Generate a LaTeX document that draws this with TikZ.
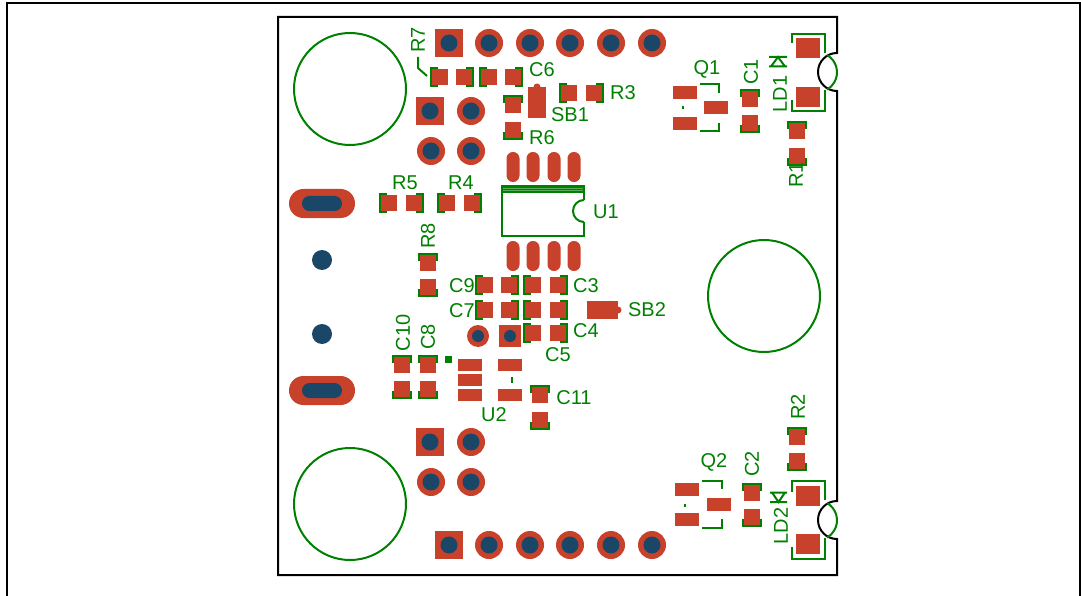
\documentclass[tikz,border=0pt]{standalone}
\usepackage{fontspec}
\setmainfont{Liberation Sans}
\definecolor{padred}{RGB}{200,65,43}
\definecolor{holeblue}{RGB}{26,70,104}
\definecolor{silkgreen}{RGB}{0,128,0}
\tikzset{
	padfill/.style={fill=padred,draw=none},
	holefill/.style={fill=holeblue,draw=none},
	silk/.style={draw=silkgreen,line width=2pt,fill=none},
	edge/.style={draw=black,line width=2pt},
	lbl/.style={text=silkgreen,inner sep=0pt,font=\fontsize{20}{22}\selectfont},
}
\begin{document}
\begin{tikzpicture}[x=1pt,y=-1pt]
	\useasboundingbox (0,0) rectangle (1081,596);
	% page frame and board
	\draw[edge] (7,600) -- (7,3) -- (1080,3) -- (1080,600);
	\draw[edge] (278,17) -- (837,17) -- (837,53) arc[start angle=270,end angle=90,radius=19] -- (837,501) arc[start angle=270,end angle=90,radius=19] -- (837,575) -- (278,575) -- cycle;

	% mounting circles
	\foreach \x/\y/\r in {350/89/56,764/296/56,350/504/56}
		\draw[silk] (\x,\y) circle[radius=\r];

	% silk of the chips, horizontal then vertical
	\foreach \xa/\xb/\y in {389/414/203,447/472/203,440/464/77,489/513/77,569/594/93,485/509/285,533/558/285,485/509/310,533/558/310,533/558/333}{
		\draw[silk] (\xa-2,\y-9) -- (\xa-9,\y-9) -- (\xa-9,\y+9) -- (\xa-2,\y+9);
		\draw[silk] (\xb+2,\y-9) -- (\xb+9,\y-9) -- (\xb+9,\y+9) -- (\xb+2,\y+9);
	}
	\foreach \x/\ya/\yb in {513/105/130,750/99/123,797/131/156,428/263/287,402/365/389,428/365/389,540/395/420,797/437/461,752/493/517}{
		\draw[silk] (\x-9,\ya-2) -- (\x-9,\ya-9) -- (\x+9,\ya-9) -- (\x+9,\ya-2);
		\draw[silk] (\x-9,\yb+2) -- (\x-9,\yb+9) -- (\x+9,\yb+9) -- (\x+9,\yb+2);
	}
	\draw[silk] (418,57) -- (418,68) -- (427,76);

	% U1
	\draw[silk] (584,200) -- (584,186) -- (502,186) -- (502,236) -- (584,236) -- (584,222);
	\draw[silk] (584,200) arc[start angle=270,end angle=90,radius=11];
	\fill[silkgreen] (502,186) rectangle (584,193);
	\foreach \y in {188.5,190.5}
		\draw[white!35!silkgreen,line width=0.4pt] (503,\y) -- (583,\y);

	% Q1, Q2
	\draw[silk] (700,84) -- (719,84) -- (719,93);
	\draw[silk] (700,131) -- (719,131) -- (719,123);
	\draw[silk] (702,481) -- (722,481) -- (722,489);
	\draw[silk] (702,528) -- (722,528) -- (722,519);
	\fill[silkgreen] (682,106.5) rectangle (684,109.5);
	\fill[silkgreen] (684,503.5) rectangle (686,506.5);

	% LD1, LD2
	\draw[silk] (792,43) -- (792,34) -- (825,34) -- (825,53);
	\draw[silk] (792,100) -- (792,111) -- (825,111) -- (825,90);
	\draw[silk] (792,492) -- (792,481) -- (825,481) -- (825,500);
	\draw[silk] (792,547) -- (792,559) -- (825,559) -- (825,538);
	\draw[silk] (827,55) arc[start angle=-60,end angle=60,radius=20];
	\draw[silk] (827,503) arc[start angle=-60,end angle=60,radius=20];
	\draw[silk] (769,57) -- (787,57) (769,66.5) -- (787,66.5) (771,66.5) -- (778,57) -- (785,66.5);
	\draw[silk] (770,492.5) -- (787,492.5) (770,502) -- (787,502) (772,492.5) -- (778.5,502) -- (785,492.5);

	% U2
	\fill[silkgreen] (445,356) rectangle (452,363);
	\draw[silk] (512,377) -- (512,383);

	% chip pads
	\foreach \xa/\xb/\y in {389/414/203,447/472/203,440/464/77,489/513/77,569/594/93,485/509/285,533/558/285,485/509/310,533/558/310,533/558/333}{
		\fill[padfill] (\xa-8,\y-8) rectangle (\xa+8,\y+8);
		\fill[padfill] (\xb-8,\y-8) rectangle (\xb+8,\y+8);
	}
	\foreach \x/\ya/\yb in {513/105/130,750/99/123,797/131/156,428/263/287,402/365/389,428/365/389,540/395/420,797/437/461,752/493/517}{
		\fill[padfill] (\x-8,\ya-8) rectangle (\x+8,\ya+8);
		\fill[padfill] (\x-8,\yb-8) rectangle (\x+8,\yb+8);
	}

	% solder bridges
	\fill[padfill] (528,87) rectangle (546,118);
	\fill[padfill] (537,87) circle[radius=3.5];
	\fill[padfill] (587,301) rectangle (618,319);
	\fill[padfill] (618,310) circle[radius=3.5];

	% wide pads of U2, Q1, Q2, LD1, LD2
	\foreach \xa/\ya/\xb/\yb in {458/359/482/371,458/374/482/386,458/389/482/401,498/359/522/371,498/389/522/401,
		673/86/697/99,673/117/697/130,704/101/728/114,675/483/699/496,675/513/699/526,707/498/731/511,
		796/38/820/58,796/87/820/107,796/486/820/506,796/534/820/554}
		\fill[padfill] (\xa,\ya) rectangle (\xb,\yb);

	% U1 legs
	\foreach \x in {513,533,554,574}{
		\fill[padfill,rounded corners=6.4pt] (\x-6.5,152) rectangle (\x+6.5,182);
		\fill[padfill,rounded corners=6.4pt] (\x-6.5,241) rectangle (\x+6.5,271);
	}

	% pin headers
	\foreach \x/\y in {489/43,530/43,570/43,611/43,652/43,489/545,530/545,570/545,611/545,652/545,471/111,431/151,471/151,471/442,431/482,471/482}
		\fill[padfill] (\x,\y) circle[radius=14];
	\foreach \x/\y in {449/43,449/545,430/111,430/442}
		\fill[padfill] (\x-14,\y-14) rectangle (\x+14,\y+14);
	\foreach \x/\y in {449/43,489/43,530/43,570/43,611/43,652/43,449/545,489/545,530/545,570/545,611/545,652/545,430/111,471/111,431/151,471/151,430/442,471/442,431/482,471/482}
		\fill[holefill] (\x,\y) circle[radius=8.5];
	\fill[padfill] (478,336) circle[radius=11];
	\fill[padfill] (499,325) rectangle (521,347);
	\fill[holefill] (478,336) circle[radius=6];
	\fill[holefill] (510,336) circle[radius=6];

	% USB connector
	\foreach \y in {203.5,390.5}{
		\fill[padfill,rounded corners=14.4pt] (289,\y-14.5) rectangle (355,\y+14.5);
		\fill[holefill,rounded corners=7.4pt] (302,\y-7.5) rectangle (342,\y+7.5);
	}
	\fill[holefill] (322,260) circle[radius=10];
	\fill[holefill] (322,334) circle[radius=10];

	% labels
	\foreach \name/\x/\y in {C6/542/70,SB1/570/115,R3/623/93,R6/542/138,Q1/707/69,U1/606/212,R5/405/183,R4/461/183,C9/462/286,C7/462/311,C3/586/286,SB2/647/310,C4/586/331,C5/558/355,C11/574/398,U2/494/415,Q2/714/462}
		\node[lbl] (lbl\name) at (\x,\y) {\name};
	\foreach \name/\x/\y in {R7/418/40,C1/751/72,LD1/780/94,R1/796/175,R8/428/236,C10/403/333,C8/428/337,C2/752/464,LD2/781/526,R2/798/407}
		\node[lbl,rotate=90] (lbl\name) at (\x,\y) {\name};
\end{tikzpicture}
\end{document}
